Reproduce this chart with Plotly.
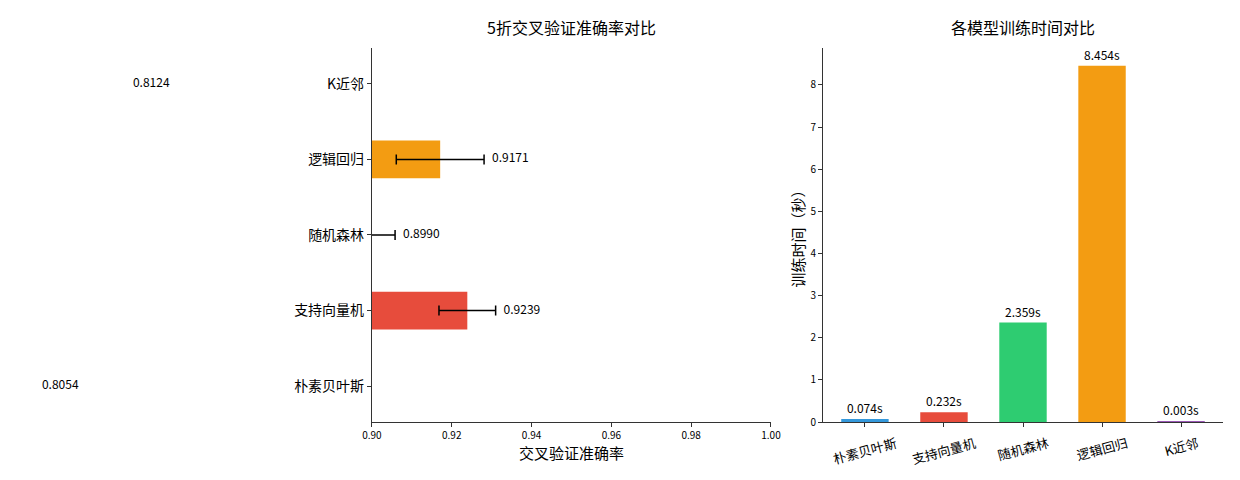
import plotly.graph_objects as go

# model names and results
models = ['朴素贝叶斯', '支持向量机', '随机森林', '逻辑回归', 'K近邻']
colors = ['#3498db', '#e74c3c', '#2ecc71', '#f39c12', '#9b59b6']
cv_mean = [0.8054, 0.9239, 0.8990, 0.9171, 0.8124]
cv_std = [0.0099, 0.0071, 0.0068, 0.0110, 0.0257]
train_time = [0.074, 0.232, 2.359, 8.454, 0.003]

FONT = 'Noto Sans CJK SC'
AX = '#333333'

# panel extents (paper fractions)
L0, L1 = 0.2935, 0.6153
R0, R1 = 0.6573, 0.9798
Y0, Y1 = 0.1375, 0.9167
acc_range = [0.9, 1.0]
# helper axis for the value labels: same scale as the accuracy axis, reaching the page edge
label_range = [acc_range[1] - (acc_range[1] - acc_range[0]) * L1 / (L1 - L0), acc_range[1]]

fig = go.Figure()

# left: cross-validation accuracy (horizontal bars with error bars)
fig.add_trace(go.Bar(
    y=models, x=cv_mean, orientation='h', width=0.5,
    marker=dict(color=colors, line=dict(width=0)),
    error_x=dict(type='data', array=cv_std, color='black', thickness=1.5, width=5),
    xaxis='x', yaxis='y', showlegend=False))

# value labels sit just right of the error bar (some fall left of the axis)
label_x = [m + s + 0.002 for m, s in zip(cv_mean, cv_std)]
fig.add_trace(go.Scatter(
    y=models, x=label_x, mode='text', text=['%.4f' % v for v in cv_mean],
    textposition='middle right', textfont=dict(size=12, color='black', family=FONT),
    cliponaxis=False, xaxis='x3', yaxis='y', showlegend=False, hoverinfo='skip'))

# right: training time
fig.add_trace(go.Bar(
    x=models, y=train_time, width=0.6,
    marker=dict(color=colors, line=dict(width=0)),
    text=['%.3fs' % t for t in train_time], textposition='outside',
    textfont=dict(size=12, color='black', family=FONT), cliponaxis=False,
    xaxis='x2', yaxis='y2', showlegend=False))

axis_common = dict(showline=True, linecolor=AX, linewidth=1, ticks='outside',
                   ticklen=4, tickcolor=AX, showgrid=False, zeroline=False,
                   automargin=False)

# rotated category labels under the right panel
cat_labels = [dict(text=m, xref='x2', yref='paper', x=m, y=Y0, yshift=-8,
                   xanchor='center', yanchor='top', textangle=-15, showarrow=False,
                   font=dict(size=13)) for m in models]

fig.update_layout(
    width=1240, height=480,
    margin=dict(l=0, r=0, t=0, b=0),
    paper_bgcolor='white', plot_bgcolor='rgba(0,0,0,0)',
    font=dict(family=FONT, color='black'),
    xaxis=dict(domain=[L0, L1], range=acc_range, dtick=0.02, tickformat='.2f',
               tickfont=dict(size=10), anchor='y',
               title=dict(text='交叉验证准确率', font=dict(size=15), standoff=4),
               **axis_common),
    xaxis3=dict(domain=[0, L1], range=label_range, anchor='y', visible=False,
                automargin=False),
    yaxis=dict(domain=[Y0, Y1], range=[-0.475, 4.475], anchor='x',
               tickfont=dict(size=14), **axis_common),
    xaxis2=dict(domain=[R0, R1], range=[-0.53, 4.53], anchor='y2',
                showticklabels=False, **axis_common),
    yaxis2=dict(domain=[Y0, Y1], range=[0, 8.877], dtick=1, anchor='x2',
                tickfont=dict(size=10),
                title=dict(text='训练时间（秒）', font=dict(size=15), standoff=2),
                **axis_common),
    annotations=[
        dict(text='5折交叉验证准确率对比', xref='paper', yref='paper',
             x=(L0 + L1) / 2, y=0.960, xanchor='center', yanchor='middle',
             showarrow=False, font=dict(size=16)),
        dict(text='各模型训练时间对比', xref='paper', yref='paper',
             x=(R0 + R1) / 2, y=0.960, xanchor='center', yanchor='middle',
             showarrow=False, font=dict(size=16)),
    ] + cat_labels,
)

fig.write_html('out.html')
